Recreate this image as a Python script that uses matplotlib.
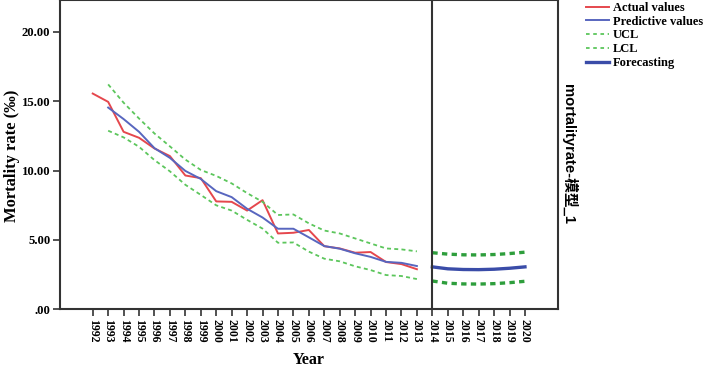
import matplotlib
matplotlib.use("Agg")
import matplotlib.pyplot as plt
from matplotlib.lines import Line2D

# ---- data ----
years_hist = list(range(1992, 2014))
actual = [15.56, 14.96, 12.80, 12.37, 11.60, 11.05, 9.65, 9.46, 7.78, 7.75, 7.12,
          7.87, 5.47, 5.52, 5.72, 4.55, 4.39, 4.08, 4.13, 3.41, 3.26, 2.89]
years_pred = list(range(1993, 2014))
predicted = [14.55, 13.72, 12.80, 11.62, 10.92, 9.98, 9.40, 8.52, 8.09, 7.25, 6.62,
             5.81, 5.81, 5.19, 4.56, 4.37, 4.04, 3.78, 3.42, 3.35, 3.12]
ucl = [16.22, 14.90, 13.76, 12.68, 11.75, 10.80, 10.05, 9.62, 9.08, 8.38, 7.75,
       6.80, 6.84, 6.20, 5.68, 5.47, 5.11, 4.75, 4.39, 4.32, 4.18]
lcl = [12.88, 12.40, 11.72, 10.76, 9.95, 8.98, 8.25, 7.50, 7.12, 6.45, 5.82,
       4.80, 4.82, 4.16, 3.65, 3.46, 3.10, 2.83, 2.47, 2.40, 2.18]
years_fc = list(range(2014, 2021))
forecast = [3.06, 2.92, 2.87, 2.86, 2.89, 2.96, 3.06]
fc_ucl = [4.08, 3.98, 3.93, 3.92, 3.95, 4.02, 4.12]
fc_lcl = [2.04, 1.88, 1.83, 1.82, 1.85, 1.92, 2.02]

xticks = list(range(1992, 2021))
yticks = [0, 5, 10, 15, 20]
ytick_labels = ['.00', '5.00', '10.00', '15.00', '20.00']
legend_labels = ['Actual values', 'Predictive values', 'UCL', 'LCL', 'Forecasting']

# ---- style ----
serif = ['Liberation Serif', 'DejaVu Serif']
c_red = '#e5474d'
c_blue = '#5866bf'
c_green = '#5cc65c'
c_fblue = '#3a4ca8'
c_fgreen = '#2e9e3c'
spine_c = '#333333'

fig = plt.figure(figsize=(7.07, 3.67), dpi=100)
ax = fig.add_axes([60/707, 1 - 309.3/367, (558 - 60)/707, 309.3/367 - 0.001])

ax.plot(years_hist, actual, color=c_red, lw=1.4)
ax.plot(years_pred, predicted, color=c_blue, lw=1.4)
ax.plot(years_pred, ucl, color=c_green, lw=1.3, dashes=(2.2, 1.8))
ax.plot(years_pred, lcl, color=c_green, lw=1.3, dashes=(2.2, 1.8))
ax.plot(years_fc, forecast, color=c_fblue, lw=2.4)
ax.plot(years_fc, fc_ucl, color=c_fgreen, lw=2.4, dashes=(1.6, 1.3))
ax.plot(years_fc, fc_lcl, color=c_fgreen, lw=2.4, dashes=(1.6, 1.3))
ax.axvline(2014, color=spine_c, lw=1.5)

ax.set_xlim(1989.88, 2022.14)
ax.set_ylim(0, 22.28)
ax.set_xticks(xticks, labels=[str(y) for y in xticks])
ax.set_yticks(yticks, labels=ytick_labels)
for lab in ax.get_xticklabels():
    lab.set_rotation(-90)
    lab.set_fontfamily(serif)
    lab.set_fontweight('bold')
    lab.set_fontsize(8.5)
for lab in ax.get_yticklabels():
    lab.set_fontfamily(serif)
    lab.set_fontweight('bold')
    lab.set_fontsize(9.2)
ax.tick_params(axis='both', direction='out', length=5, width=1.2, color=spine_c, pad=2)
for s in ax.spines.values():
    s.set_color(spine_c)
    s.set_linewidth(1.5)

fig.text(12/707, 1 - 156/367, 'Mortality rate (‰)', rotation=90, ha='center', va='center',
         family=serif, weight='bold', fontsize=12)
fig.text(309/707, 1 - 360/367, 'Year', ha='center', va='center',
         family=serif, weight='bold', fontsize=11.5)
fig.text(569/707, 1 - 154/367, 'mortalityrate-模型_1', rotation=270, ha='center', va='center',
         family=['Liberation Sans', 'Noto Sans CJK SC'], weight='bold', fontsize=10.6)

handles = [Line2D([], [], color=c_red, lw=1.4),
           Line2D([], [], color=c_blue, lw=1.4),
           Line2D([], [], color=c_green, lw=1.3, dashes=(2, 2)),
           Line2D([], [], color=c_green, lw=1.3, dashes=(2, 2)),
           Line2D([], [], color=c_fblue, lw=2.4)]
fig.legend(handles, legend_labels, loc='upper left', bbox_to_anchor=(586/707, 1 - 2/367),
           frameon=False, prop={'family': serif, 'weight': 'bold', 'size': 9},
           handlelength=1.8, handletextpad=0.35, labelspacing=0.14,
           borderaxespad=0, borderpad=0)

fig.savefig('out.png', dpi=100)
